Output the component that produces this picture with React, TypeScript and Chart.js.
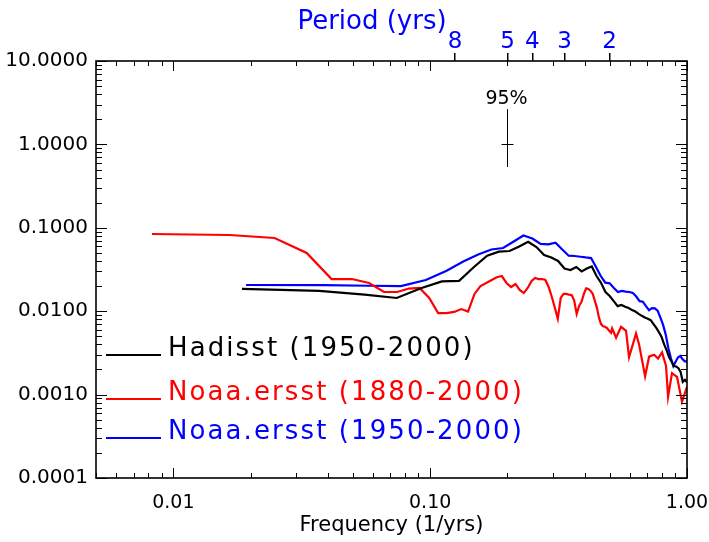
import React, { useEffect, useRef } from "react";
import { Chart, registerables } from "chart.js";

Chart.register(...registerables);

// ---- data ----
const hadisstFreq = [
  0.0185, 0.037, 0.0556, 0.0741, 0.0926, 0.1111, 0.1296, 0.1481, 0.1667, 0.1852,
  0.2037, 0.2222, 0.2407, 0.2593, 0.2778, 0.2963, 0.3148, 0.3333, 0.3519, 0.3704,
  0.3889, 0.4074, 0.4259, 0.4444, 0.463, 0.4815, 0.5, 0.5185, 0.537, 0.5556,
  0.5741, 0.5926, 0.6111, 0.6296, 0.6481, 0.6667, 0.6852, 0.7037, 0.7222, 0.7407,
  0.7593, 0.7778, 0.7963, 0.8148, 0.8333, 0.8519, 0.8704, 0.8889, 0.9074, 0.9259,
  0.9444, 0.963, 0.9815, 1.0,
];
const hadisstPower = [
  0.0185, 0.0175, 0.0158, 0.0144, 0.019, 0.0228, 0.0231, 0.0339, 0.0463, 0.0517,
  0.0527, 0.0597, 0.0681, 0.0587, 0.0472, 0.0441, 0.04, 0.0325, 0.0312, 0.0339,
  0.03, 0.0325, 0.0344, 0.0264, 0.0218, 0.017, 0.0152, 0.0132, 0.0115, 0.0119,
  0.0113, 0.0109, 0.0103, 0.0099, 0.0093, 0.0088, 0.0084, 0.0081, 0.0078, 0.007,
  0.0063, 0.0056, 0.0049, 0.004, 0.0034, 0.0028, 0.0025, 0.0022, 0.00217, 0.00207,
  0.00187, 0.00142, 0.0015, 0.0014,
];

const ersstLongFreq = [
  0.00826, 0.01653, 0.02479, 0.03306, 0.04132, 0.04959, 0.05785, 0.06612, 0.07438, 0.08264,
  0.09091, 0.09917, 0.1074, 0.1157, 0.124, 0.1322, 0.1405, 0.1488, 0.157, 0.1653,
  0.1736, 0.1818, 0.1901, 0.1983, 0.2066, 0.2149, 0.2231, 0.2314, 0.2397, 0.2479,
  0.2562, 0.2645, 0.2727, 0.281, 0.2893, 0.2975, 0.3058, 0.314, 0.3223, 0.3306,
  0.3388, 0.3471, 0.3554, 0.3636, 0.3719, 0.3802, 0.3884, 0.3967, 0.405, 0.4132,
  0.4215, 0.4298, 0.438, 0.4463, 0.4545, 0.4628, 0.4711, 0.4793, 0.4876, 0.4959,
  0.5063, 0.5114, 0.5294, 0.5537, 0.579, 0.5948, 0.6333, 0.6507, 0.6868, 0.7118,
  0.7441, 0.7715, 0.7996, 0.8288, 0.8438, 0.874, 0.9143, 0.9561, 1.0,
];
const ersstLongPower = [
  0.0843, 0.082, 0.0755, 0.0499, 0.0243, 0.0243, 0.0218, 0.017, 0.017, 0.0187,
  0.019, 0.0144, 0.0095, 0.0095, 0.0098, 0.0106, 0.0099, 0.0161, 0.02, 0.0218,
  0.0237, 0.0255, 0.0264, 0.0218, 0.0195, 0.0212, 0.018, 0.0165, 0.019, 0.0229,
  0.025, 0.0243, 0.0243, 0.0237, 0.0195, 0.0149, 0.011, 0.0081, 0.0144, 0.0161,
  0.0161, 0.0158, 0.0156, 0.0135, 0.0093, 0.0116, 0.013, 0.0161, 0.0188, 0.0185,
  0.0175, 0.0161, 0.0132, 0.0109, 0.0083, 0.007, 0.0066, 0.0065, 0.0063, 0.0059,
  0.0055, 0.0062, 0.0048, 0.0065, 0.0058, 0.0028, 0.0054, 0.004, 0.00166, 0.00285,
  0.003, 0.0027, 0.0032, 0.0022, 0.00094, 0.00181, 0.00163, 0.00082, 0.00124,
];

const ersstShortFreq = [
  0.0192, 0.0385, 0.0577, 0.0769, 0.0962, 0.1154, 0.1346, 0.1538, 0.1731, 0.1923,
  0.2115, 0.2308, 0.25, 0.2692, 0.2885, 0.3077, 0.3269, 0.3462, 0.3654, 0.3846,
  0.4038, 0.4231, 0.4423, 0.4615, 0.4808, 0.5, 0.5192, 0.5385, 0.5577, 0.5769,
  0.5962, 0.6154, 0.6346, 0.6538, 0.6731, 0.6923, 0.7115, 0.7308, 0.75, 0.7692,
  0.7885, 0.8077, 0.8269, 0.8462, 0.8654, 0.8846, 0.9038, 0.9231, 0.9423, 0.9615,
  0.9808, 1.0,
];
const ersstShortPower = [
  0.0206, 0.0205, 0.0202, 0.02, 0.0237, 0.0303, 0.0394, 0.0478, 0.0549, 0.0572,
  0.0686, 0.0809, 0.0745, 0.064, 0.0632, 0.0663, 0.0549, 0.0463, 0.0459, 0.045,
  0.0441, 0.0434, 0.0339, 0.0264, 0.022, 0.0216, 0.019, 0.017, 0.0175, 0.0172,
  0.017, 0.0165, 0.015, 0.0132, 0.013, 0.0115, 0.0103, 0.0109, 0.0108, 0.0101,
  0.0083, 0.0068, 0.0052, 0.0036, 0.00275, 0.0022, 0.0025, 0.0028, 0.0029, 0.00265,
  0.0025, 0.0025,
];

const seriesLabels = ["Hadisst (1950-2000)", "Noaa.ersst (1880-2000)", "Noaa.ersst (1950-2000)"];
const seriesColors = ["#000000", "#ff0000", "#0000ff"];

// 95% confidence bar
const confFreq = 0.2;
const confLow = 0.536;
const confMid = 1.0;
const confHigh = 2.65;
const confLabel = "95%";

// axes
const xMin = 0.005;
const xMax = 1.0;
const yMin = 0.0001;
const yMax = 10;
const xTickValues = [0.01, 0.1, 1];
const yTickValues = [0.0001, 0.001, 0.01, 0.1, 1, 10];
const periodTicks = [8, 5, 4, 3, 2];
const xTitle = "Frequency (1/yrs)";
const topTitle = "Period (yrs)";

const FONT = "'DejaVu Sans'";

function zip(f: number[], p: number[]) {
  return f.map((x, i) => ({ x, y: p[i] }));
}

const framePlugin = {
  id: "frame",
  afterDatasetsDraw(chart: any) {
    const { ctx, chartArea: a, scales } = chart;
    const xs = scales.x;
    const ys = scales.y;
    ctx.save();
    ctx.strokeStyle = "#000";
    const seg = (x1: number, y1: number, x2: number, y2: number) => {
      ctx.beginPath();
      ctx.moveTo(x1, y1);
      ctx.lineTo(x2, y2);
      ctx.stroke();
    };
    ctx.lineWidth = 1;
    for (let d = -4; d <= 1; d++) {
      for (let m = 1; m <= 9; m++) {
        const v = m * Math.pow(10, d);
        if (v < yMin * 0.999 || v > yMax * 1.001) continue;
        const py = Math.round(ys.getPixelForValue(v)) + 0.5;
        const len = m === 1 ? 11 : 6;
        seg(a.left, py, a.left + len, py);
        seg(a.right, py, a.right - len, py);
      }
    }
    for (let d = -3; d <= 0; d++) {
      for (let m = 1; m <= 9; m++) {
        const v = m * Math.pow(10, d);
        if (v < xMin * 0.999 || v > xMax * 1.001) continue;
        const px = Math.round(xs.getPixelForValue(v)) + 0.5;
        const len = m === 1 ? 10 : 5;
        seg(px, a.bottom, px, a.bottom - len);
        seg(px, a.top, px, a.top + len);
      }
    }
    ctx.lineWidth = 1.6;
    ctx.strokeRect(a.left, a.top, a.right - a.left, a.bottom - a.top);

    // 95% bar
    const cx = Math.round(xs.getPixelForValue(confFreq)) + 0.5;
    const yl = ys.getPixelForValue(confLow);
    const yh = ys.getPixelForValue(confHigh);
    const ym = Math.round(ys.getPixelForValue(confMid)) + 0.5;
    ctx.lineWidth = 1;
    seg(cx, yl, cx, yh);
    seg(cx - 6, ym, cx + 6, ym);
    ctx.fillStyle = "#000";
    ctx.font = `19px ${FONT}`;
    ctx.textAlign = "center";
    ctx.textBaseline = "alphabetic";
    ctx.fillText(confLabel, cx - 1, yh - 5);

    // top title
    ctx.fillStyle = "#0000ff";
    ctx.font = `26px ${FONT}`;
    ctx.fillText(topTitle, 372, 29);

    // legend
    ctx.textAlign = "left";
    ctx.font = `26px ${FONT}`;
    (ctx as any).letterSpacing = "2.1px";
    const rows = [355, 399, 438];
    chart.data.datasets.forEach((ds: any, i: number) => {
      ctx.strokeStyle = ds.borderColor;
      ctx.lineWidth = 2;
      seg(106, rows[i], 161, rows[i]);
      ctx.fillStyle = ds.borderColor;
      ctx.fillText(ds.label, 168, rows[i] + 1);
    });
    (ctx as any).letterSpacing = "0px";
    ctx.restore();
  },
};

export default function App() {
  const ref = useRef<HTMLCanvasElement>(null);
  useEffect(() => {
    if (!ref.current) return;
    const fmtX = (v: number) => (v >= 1 ? "1.00" : v >= 0.1 ? "0.10" : "0.01");
    const chart = new Chart(ref.current, {
      type: "line",
      data: {
        datasets: [
          { label: seriesLabels[0], data: zip(hadisstFreq, hadisstPower), borderColor: seriesColors[0] },
          { label: seriesLabels[1], data: zip(ersstLongFreq, ersstLongPower), borderColor: seriesColors[1] },
          { label: seriesLabels[2], data: zip(ersstShortFreq, ersstShortPower), borderColor: seriesColors[2] },
        ].map((d) => ({
          ...d,
          borderWidth: 2.2,
          pointRadius: 0,
          tension: 0,
          fill: false,
          xAxisID: "x",
          yAxisID: "y",
        })),
      },
      options: {
        animation: false,
        responsive: false,
        layout: { padding: { left: 0, right: 22, top: 0, bottom: 0 } },
        plugins: { legend: { display: false }, tooltip: { enabled: false } },
        scales: {
          x: {
            type: "logarithmic",
            position: "bottom",
            min: xMin,
            max: xMax,
            grid: { display: false, drawTicks: false },
            border: { display: false },
            afterBuildTicks: (s: any) => {
              s.ticks = xTickValues.map((v) => ({ value: v }));
            },
            afterFit: (s: any) => {
              s.height = 64;
              s.paddingLeft = 0;
              s.paddingRight = 0;
            },
            ticks: {
              autoSkip: false,
              maxRotation: 0,
              padding: 14,
              color: "#000",
              font: { family: FONT, size: 19 },
              callback: (v: any) => fmtX(Number(v)),
            },
            title: {
              display: true,
              text: xTitle,
              color: "#000",
              font: { family: FONT, size: 21 },
              padding: { top: 0, bottom: 4 },
            },
          },
          x2: {
            type: "logarithmic",
            position: "top",
            min: xMin,
            max: xMax,
            grid: { display: true, drawOnChartArea: false, drawTicks: true, tickLength: 8, color: "#000", lineWidth: 1.5 },
            border: { display: false },
            afterBuildTicks: (s: any) => {
              s.ticks = periodTicks.map((p) => ({ value: 1 / p }));
            },
            afterFit: (s: any) => {
              s.height = 61;
              s.paddingLeft = 0;
              s.paddingRight = 0;
            },
            ticks: {
              autoSkip: false,
              maxRotation: 0,
              padding: -3,
              color: "#0000ff",
              font: { family: FONT, size: 23 },
              callback: (v: any) => String(Math.round(1 / Number(v))),
            },
          },
          y: {
            type: "logarithmic",
            position: "left",
            min: yMin,
            max: yMax,
            grid: { display: false, drawTicks: false },
            border: { display: false },
            afterBuildTicks: (s: any) => {
              s.ticks = yTickValues.map((v) => ({ value: v }));
            },
            afterFit: (s: any) => {
              s.width = 96;
              s.paddingTop = 0;
              s.paddingBottom = 0;
            },
            ticks: {
              autoSkip: false,
              padding: 8,
              color: "#000",
              font: { family: FONT, size: 20 },
              callback: (v: any) => Number(v).toFixed(4),
            },
          },
        },
      },
      plugins: [framePlugin],
    } as any);
    return () => chart.destroy();
  }, []);
  return (
    <div style={{ position: "fixed", left: 0, top: 0, width: 709, height: 542, background: "#fff" }}>
      <canvas ref={ref} width={709} height={542} />
    </div>
  );
}
